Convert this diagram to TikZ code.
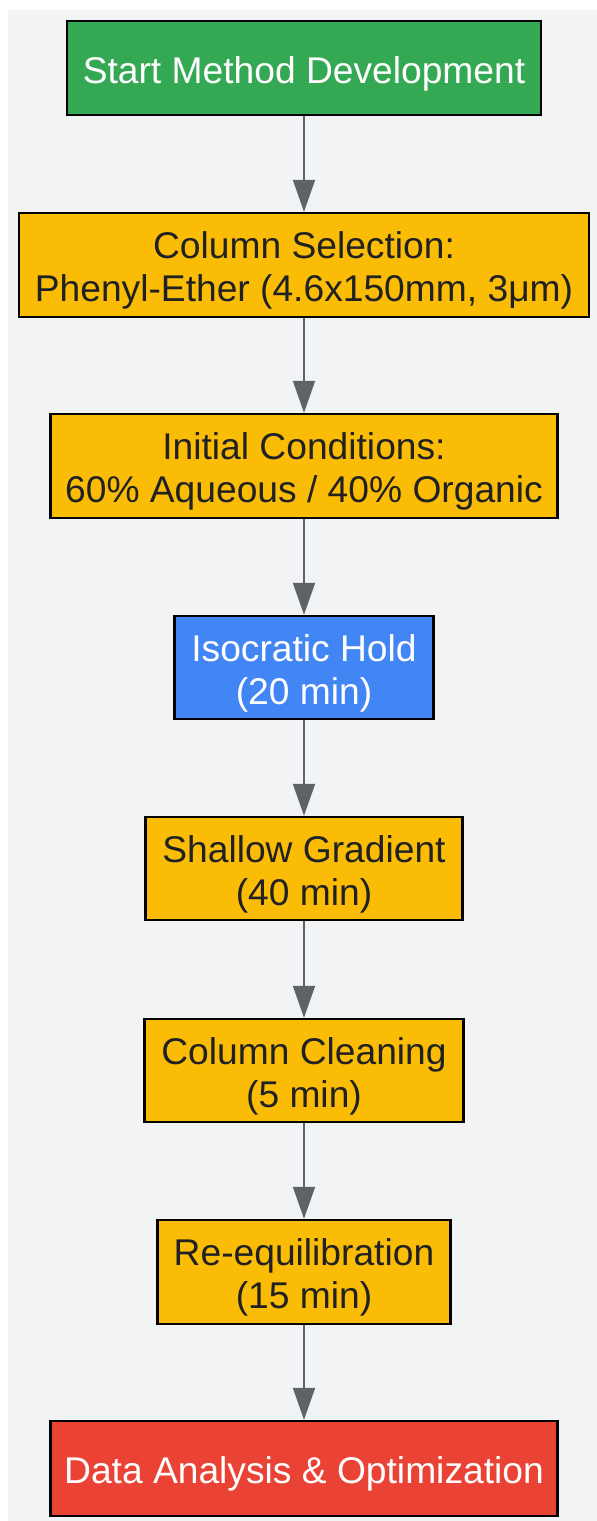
\documentclass[tikz,border=0pt]{standalone}
\usepackage{fontspec}
\setmainfont{Liberation Sans}
\usetikzlibrary{arrows.meta}
\definecolor{bggray}{HTML}{F1F3F4}
\definecolor{ggreen}{HTML}{34A853}
\definecolor{gyellow}{HTML}{FBBC05}
\definecolor{gblue}{HTML}{4285F4}
\definecolor{gred}{HTML}{EA4335}
\definecolor{arrowgray}{HTML}{5F6368}
\definecolor{darktext}{HTML}{202124}
\begin{document}
\begin{tikzpicture}[x=1pt,y=1pt,
  box/.style={draw=black, line width=2.5pt, inner sep=0pt, align=center,
    font=\fontsize{37.2}{43}\selectfont},
  txt/.style={align=center, font=\fontsize{37.2}{43}\selectfont, yshift=-5.5pt, inner sep=0pt},
  startbox/.style={box, fill=ggreen},
  stepbox/.style={box, fill=gyellow},
  holdbox/.style={box, fill=gblue},
  endbox/.style={box, fill=gred},
  flow/.style={draw=arrowgray, line width=2pt, -{Triangle[length=32pt,width=22pt]}}
]
\useasboundingbox (0,0) rectangle (597,-1521);
\fill[bggray] (8,-10) rectangle (597,-1521);
\node[startbox, minimum width=474pt, minimum height=94pt,
  label={[txt, text=white]center:Start Method Development}] (n1) at (304,-68) {};
\node[stepbox, minimum width=570pt, minimum height=104pt,
  label={[txt, text=darktext]center:{Column Selection:\\Phenyl-Ether (4.6x150mm, 3μm)}}] (n2) at (304,-265) {};
\node[stepbox, minimum width=507pt, minimum height=104pt,
  label={[txt, text=darktext]center:{Initial Conditions:\\60\% Aqueous / 40\% Organic}}] (n3) at (304,-466) {};
\node[holdbox, minimum width=259pt, minimum height=103pt,
  label={[txt, text=white]center:{Isocratic Hold\\(20 min)}}] (n4) at (304,-667.5) {};
\node[stepbox, minimum width=317pt, minimum height=103pt,
  label={[txt, text=darktext]center:{Shallow Gradient\\(40 min)}}] (n5) at (304,-868.5) {};
\node[stepbox, minimum width=319pt, minimum height=103pt,
  label={[txt, text=darktext]center:{Column Cleaning\\(5 min)}}] (n6) at (304,-1070.5) {};
\node[stepbox, minimum width=293pt, minimum height=104pt,
  label={[txt, text=darktext]center:{Re-equilibration\\(15 min)}}] (n7) at (304,-1272) {};
\node[endbox, minimum width=507pt, minimum height=95pt,
  label={[txt, text=white]center:Data Analysis \& Optimization}] (n8) at (304,-1468.5) {};
\draw[flow] (n1) -- (n2);
\draw[flow] (n2) -- (n3);
\draw[flow] (n3) -- (n4);
\draw[flow] (n4) -- (n5);
\draw[flow] (n5) -- (n6);
\draw[flow] (n6) -- (n7);
\draw[flow] (n7) -- (n8);
\end{tikzpicture}
\end{document}
